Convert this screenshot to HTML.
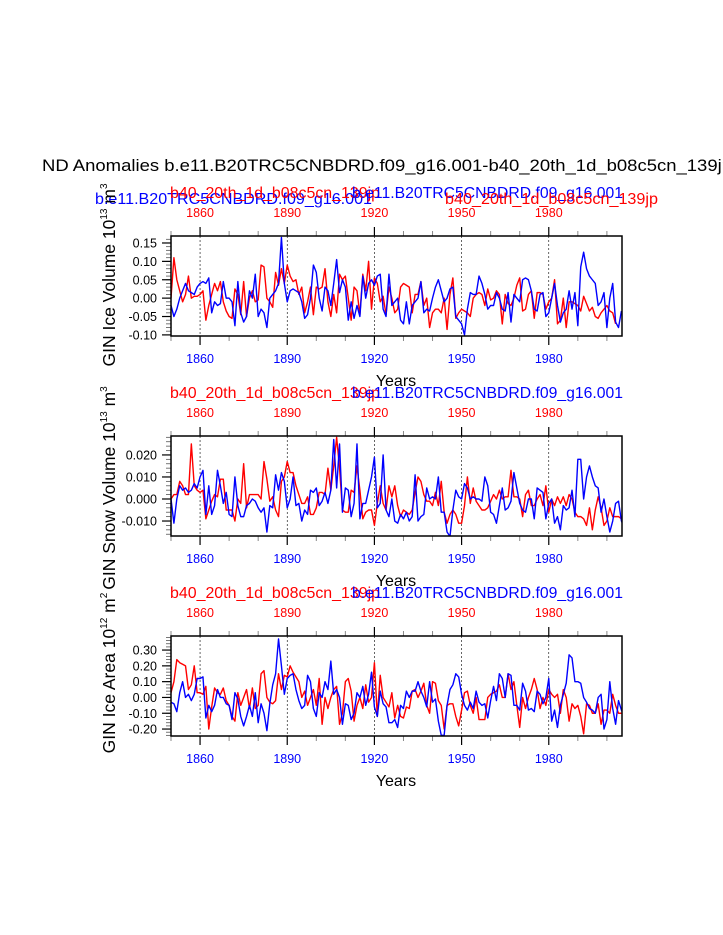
<!DOCTYPE html>
<html><head><meta charset="utf-8">
<style>
html,body{margin:0;padding:0;background:#fff;}
svg{display:block;font-family:"Liberation Sans",sans-serif;}
</style></head>
<body>
<svg id="chart" width="723" height="935" viewBox="0 0 723 935" xmlns="http://www.w3.org/2000/svg">
<text x="42" y="171" font-size="17" fill="#000" textLength="690" lengthAdjust="spacingAndGlyphs">ND Anomalies b.e11.B20TRC5CNBDRD.f09_g16.001-b40_20th_1d_b08c5cn_139jp</text>
</svg>
<script>
const startYear = 1850;
const xTicks = [1860, 1890, 1920, 1950, 1980];

const iceVolBlue = [-0.02,-0.05,-0.03,0.0,0.02,0.04,0.02,0.015,0.01,0.03,0.04,0.045,0.04,0.055,-0.04,-0.01,-0.02,-0.015,0.045,0.0,0.0,-0.01,-0.075,0.045,-0.04,-0.065,-0.05,0.02,0.0,0.065,-0.05,-0.03,-0.04,-0.08,0.0,0.01,0.02,0.04,0.165,0.04,-0.01,0.02,0.025,0.02,0.015,-0.01,-0.055,-0.045,0.0,0.09,0.07,0.0,-0.035,0.03,0.02,-0.02,0.04,0.105,0.015,0.05,0.03,-0.06,-0.01,-0.055,-0.02,-0.05,0.06,0.0,0.04,0.05,0.035,0.06,0.065,-0.03,-0.05,0.065,-0.02,-0.01,0.0,-0.06,-0.07,-0.01,-0.07,-0.02,-0.01,0.0,0.045,-0.04,-0.03,-0.035,0.0,0.03,0.05,0.02,-0.01,0.0,0.025,0.03,-0.05,-0.06,-0.07,-0.1,-0.03,0.015,0.01,0.01,0.06,0.04,0.01,-0.03,-0.02,-0.02,0.015,0.0,-0.03,-0.035,0.015,-0.065,0.01,0.0,-0.01,0.05,0.055,0.05,0.02,-0.03,-0.035,0.01,0.015,-0.05,-0.04,0.0,0.04,-0.02,-0.065,-0.04,-0.03,0.02,-0.03,0.015,-0.075,0.085,0.125,0.08,0.06,0.05,0.04,-0.02,-0.01,0.015,-0.08,0.0,0.04,-0.065,-0.08,-0.035];
const iceVolRed = [0.0,0.11,0.05,0.02,-0.01,0.01,0.06,0.0,0.005,0.005,0.01,0.02,-0.06,-0.02,0.01,0.04,0.02,0.045,-0.01,-0.035,-0.05,-0.055,0.025,0.01,-0.045,0.045,-0.05,0.0,0.02,-0.01,-0.005,0.09,0.085,0.0,-0.01,-0.025,0.07,0.035,0.08,0.04,0.09,0.06,0.045,0.05,0.01,0.03,-0.04,-0.01,0.03,-0.045,0.03,0.025,0.03,0.08,-0.01,-0.05,0.01,-0.04,0.065,0.05,0.06,0.0,-0.06,0.03,0.02,-0.045,0.065,0.02,0.1,-0.03,0.055,0.04,-0.01,0.005,-0.045,0.03,0.0,-0.04,-0.03,0.03,0.04,0.035,0.03,-0.04,0.01,0.01,0.045,-0.02,0.0,-0.08,-0.04,-0.03,-0.03,-0.04,0.0,-0.085,0.01,0.055,-0.055,-0.04,-0.03,-0.035,-0.04,-0.05,0.0,0.01,0.015,0.01,-0.02,0.025,-0.005,0.0,0.02,0.01,-0.07,0.01,-0.015,-0.02,0.0,0.035,0.055,-0.035,-0.03,0.01,0.02,-0.055,0.015,0.015,0.01,-0.03,-0.01,0.0,0.05,-0.07,-0.06,0.0,-0.08,-0.01,-0.01,-0.015,-0.02,-0.035,0.005,-0.015,-0.035,-0.025,-0.05,-0.055,-0.04,-0.03,-0.02,-0.035,-0.04,-0.07];
const snowBlue = [0.0,-0.011,0.0,0.006,0.004,0.005,0.003,0.004,0.007,0.005,0.01,0.013,-0.007,0.006,-0.007,-0.003,0.013,0.006,-0.002,0.003,-0.007,-0.008,0.01,-0.003,-0.008,-0.008,-0.003,-0.002,0.0,-0.001,-0.004,-0.006,-0.004,-0.015,-0.003,-0.004,0.011,0.004,0.012,0.008,-0.004,0.0,0.01,-0.003,-0.002,-0.01,-0.005,-0.007,0.004,0.003,0.005,-0.003,-0.001,0.003,-0.002,0.004,0.027,0.005,0.025,-0.006,0.005,0.004,-0.008,-0.002,0.025,-0.009,-0.002,-0.002,0.004,0.01,0.019,-0.004,-0.002,0.02,-0.005,-0.008,0.0,-0.01,-0.011,-0.007,-0.009,-0.006,-0.01,-0.008,0.011,-0.01,-0.008,-0.007,0.005,0.0,0.001,0.0,0.01,-0.006,-0.006,-0.015,-0.017,-0.005,0.004,0.001,0.0,0.007,0.005,0.0,0.001,0.0,0.0,-0.001,0.01,0.006,-0.006,-0.007,-0.011,-0.003,0.005,-0.005,-0.004,-0.001,0.012,0.005,-0.002,-0.005,-0.006,0.0,0.0,-0.009,0.005,0.004,0.003,-0.009,-0.002,0.0,-0.011,-0.008,-0.014,-0.003,-0.005,-0.004,0.004,-0.008,0.018,0.018,0.0,0.01,0.015,0.01,0.006,0.005,-0.006,0.0,-0.008,-0.015,-0.01,-0.002,-0.001,-0.01,-0.013,-0.002,-0.01];
const snowRed = [0.0,0.002,0.002,0.008,0.006,0.002,0.002,0.025,0.006,0.004,0.003,0.004,-0.009,-0.005,-0.001,0.002,0.001,0.009,0.009,-0.005,-0.005,-0.005,-0.01,0.0,-0.002,0.016,-0.004,0.002,0.002,0.002,0.002,0.0,0.017,0.009,-0.001,0.001,-0.005,-0.008,0.008,0.01,0.017,0.012,0.012,0.006,0.002,-0.002,-0.002,0.001,-0.007,-0.007,-0.004,0.003,0.003,0.002,0.014,0.004,0.015,0.028,0.014,-0.005,-0.006,-0.006,0.004,0.003,0.015,0.004,-0.009,-0.006,-0.005,-0.005,-0.012,-0.002,0.006,-0.002,-0.005,0.006,0.001,0.006,-0.003,-0.008,-0.005,-0.006,-0.007,-0.005,0.003,0.01,0.008,0.002,-0.001,-0.001,-0.003,0.003,-0.003,0.008,-0.006,-0.011,-0.007,-0.005,-0.007,-0.011,-0.011,-0.003,0.01,-0.002,0.005,-0.001,-0.003,-0.005,-0.005,-0.004,-0.001,0.002,0.0,0.004,0.0,0.001,0.001,0.013,0.001,0.001,0.0,-0.008,0.002,0.004,-0.003,-0.003,0.0,0.002,-0.003,0.006,-0.006,0.0,-0.003,0.001,-0.002,0.001,-0.003,0.002,0.0,-0.006,-0.008,-0.008,-0.009,-0.012,-0.004,-0.014,-0.005,0.001,-0.004,-0.012,-0.01,-0.004,-0.008,-0.008,-0.008,-0.009,-0.011];
const areaBlue = [-0.03,-0.04,-0.09,0.03,0.1,0.0,0.02,-0.02,0.02,0.12,0.12,0.13,-0.13,-0.05,-0.09,-0.05,0.05,0.0,0.0,-0.04,-0.05,-0.14,0.03,-0.01,-0.12,-0.18,-0.12,-0.05,-0.12,0.03,-0.16,-0.04,-0.1,-0.21,-0.04,0.08,0.15,0.37,0.2,0.02,0.12,0.14,0.15,0.05,-0.02,-0.07,-0.05,0.14,0.1,-0.07,-0.12,0.03,0.0,0.1,0.05,0.23,0.02,0.05,0.0,-0.17,-0.04,-0.05,-0.14,-0.1,0.03,0.0,0.07,-0.05,0.02,0.16,-0.06,-0.12,0.04,-0.04,-0.06,-0.16,-0.16,-0.14,-0.19,-0.05,-0.07,0.04,0.0,0.04,0.04,0.1,0.04,0.0,-0.06,0.1,-0.03,-0.01,-0.15,-0.24,-0.24,-0.05,0.05,0.08,0.15,0.13,0.02,-0.05,-0.08,-0.03,-0.07,0.04,-0.03,-0.05,-0.04,-0.13,-0.02,0.07,-0.02,0.15,0.12,0.0,0.15,0.14,-0.05,-0.05,-0.08,0.09,0.04,-0.08,-0.07,-0.09,0.04,0.02,-0.04,0.0,0.12,-0.15,-0.08,-0.19,-0.05,0.02,0.09,0.27,0.25,0.1,0.1,0.09,0.0,-0.03,-0.07,-0.08,-0.1,0.0,0.02,-0.2,-0.14,0.1,-0.07,-0.17,-0.02,-0.08,-0.12];
const areaRed = [0.03,0.10,0.24,0.22,0.21,0.20,0.05,0.08,0.20,0.03,0.03,0.02,0.07,-0.20,-0.06,0.06,0.03,0.02,0.06,-0.02,-0.05,-0.12,-0.15,0.03,-0.05,0.0,0.05,-0.07,0.06,-0.07,-0.05,0.15,0.17,0.0,-0.03,-0.04,-0.02,0.15,0.05,0.14,0.13,0.20,0.16,0.13,0.1,0.0,0.04,-0.05,0.0,0.05,-0.05,0.12,-0.17,0.0,-0.07,0.0,0.05,0.07,-0.17,-0.1,0.1,0.12,0.04,-0.15,-0.05,0.0,-0.07,0.08,-0.03,0.0,0.22,-0.12,0.14,0.0,-0.03,-0.06,0.03,-0.13,-0.05,-0.12,-0.13,-0.06,-0.07,0.04,0.05,0.0,0.04,0.09,-0.05,-0.1,0.1,0.09,-0.02,-0.05,-0.2,-0.05,-0.04,-0.04,-0.12,-0.18,-0.08,0.03,0.04,-0.05,-0.1,0.0,-0.14,-0.14,-0.14,0.0,0.02,0.03,0.04,0.08,0.0,0.0,0.15,0.05,0.1,-0.05,-0.19,0.0,-0.07,0.0,0.05,0.12,0.05,-0.07,0.0,-0.05,0.05,0.02,0.0,0.02,-0.1,0.05,0.0,-0.15,-0.04,-0.07,-0.05,-0.12,-0.23,-0.04,-0.05,-0.1,-0.1,-0.04,-0.17,-0.08,-0.08,-0.1,0.02,-0.05,-0.1,-0.1];

const iceVolTicks = [0.15, 0.10, 0.05, 0.00, -0.05, -0.10];
const iceVolTickLabels = ["0.15","0.10","0.05","0.00","-0.05","-0.10"];
const snowTicks = [0.02, 0.01, 0.0, -0.01];
const snowTickLabels = ["0.020","0.010","0.000","-0.010"];
const areaTicks = [0.3, 0.2, 0.1, 0.0, -0.1, -0.2];
const areaTickLabels = ["0.30","0.20","0.10","0.00","-0.10","-0.20"];

const NS = "http://www.w3.org/2000/svg";
const svg = document.getElementById('chart');
function mk(tag, attrs, parent, text){
  const e = document.createElementNS(NS, tag);
  for (const k in attrs) e.setAttribute(k, attrs[k]);
  if (text !== undefined) e.textContent = text;
  (parent || svg).appendChild(e);
  return e;
}
const L = 171, R = 622, X0 = 1850, X1 = 2005.2;
function xs(yr){ return L + (yr - X0) / (X1 - X0) * (R - L); }

const panels = [
  {name:'ice-volume', top:236, ymin:-0.103, ymax:0.169, blue:iceVolBlue, red:iceVolRed, ticks:iceVolTicks, labels:iceVolTickLabels, minor:0.01, title:'GIN Ice Volume 10', sup:'13', unit:' m', usup:'3', titleC:275, first:'blue'},
  {name:'snow-volume', top:436, ymin:-0.0168, ymax:0.0286, blue:snowBlue, red:snowRed, ticks:snowTicks, labels:snowTickLabels, minor:0.002, title:'GIN Snow Volume 10', sup:'13', unit:' m', usup:'3', titleC:488, first:'red'},
  {name:'ice-area', top:636, ymin:-0.244, ymax:0.389, blue:areaBlue, red:areaRed, ticks:areaTicks, labels:areaTickLabels, minor:0.02, title:'GIN Ice Area 10', sup:'12', unit:' m', usup:'2', titleC:673, first:'red'}
];

panels.forEach((p, pi) => {
  const T = p.top, B = p.top + 100;
  const ys = v => B - (v - p.ymin) / (p.ymax - p.ymin) * (B - T);
  const g = mk('g', {}, svg);
  
  
  const clipId = 'clip' + pi;
  const cp = mk('clipPath', {id: clipId}, g);
  mk('rect', {x:L, y:T, width:R-L, height:B-T}, cp);

  if (p.first === 'blue') {
    let t = mk('text', {x:95, y:204, fill:'#0000ff', 'font-size':16, textLength:277, lengthAdjust:'spacingAndGlyphs'}, g, 'b.e11.B20TRC5CNBDRD.f09_g16.001');
     
    t = mk('text', {x:170, y:198, fill:'#ff0000', 'font-size':16, textLength:210, lengthAdjust:'spacingAndGlyphs'}, g, 'b40_20th_1d_b08c5cn_139jp');
     
    t = mk('text', {x:352, y:198, fill:'#0000ff', 'font-size':16, textLength:271, lengthAdjust:'spacingAndGlyphs'}, g, 'b.e11.B20TRC5CNBDRD.f09_g16.001');
     
    t = mk('text', {x:445, y:204, fill:'#ff0000', 'font-size':16, textLength:213, lengthAdjust:'spacingAndGlyphs'}, g, 'b40_20th_1d_b08c5cn_139jp');
     
  } else {
    let t = mk('text', {x:170, y:T-38, fill:'#ff0000', 'font-size':16, textLength:210, lengthAdjust:'spacingAndGlyphs'}, g, 'b40_20th_1d_b08c5cn_139jp');
     
    t = mk('text', {x:352, y:T-38, fill:'#0000ff', 'font-size':16, textLength:271, lengthAdjust:'spacingAndGlyphs'}, g, 'b.e11.B20TRC5CNBDRD.f09_g16.001');
     
  }

  xTicks.forEach(yr => {
    const l = mk('line', {x1:xs(yr), x2:xs(yr), y1:T, y2:B, stroke:'#000', 'stroke-width':0.6, 'stroke-dasharray':'2,2'}, g);
     
  });

  for (let yr = 1850; yr <= 2005; yr += 10) {
    const major = xTicks.includes(yr);
    const len = major ? 9 : 5;
    const col = major ? '#000' : '#888';
    mk('line', {x1:xs(yr), x2:xs(yr), y1:B, y2:B+len, stroke:col, 'stroke-width':major?1.2:1}, g);
    mk('line', {x1:xs(yr), x2:xs(yr), y1:T, y2:T-len, stroke:col, 'stroke-width':major?1.2:1}, g);
  }
  xTicks.forEach(yr => {
    let t = mk('text', {x:xs(yr), y:B+27, fill:'#0000ff', 'font-size':12.5, 'text-anchor':'middle'}, g, String(yr));
     
    t = mk('text', {x:xs(yr), y:T-19, fill:'#ff0000', 'font-size':12.5, 'text-anchor':'middle'}, g, String(yr));
     
  });

  const nMin = Math.ceil(p.ymin / p.minor), nMax = Math.floor(p.ymax / p.minor);
  for (let k = nMin; k <= nMax; k++) {
    const y = ys(k * p.minor);
    mk('line', {x1:L, x2:L-5, y1:y, y2:y, stroke:'#555', 'stroke-width':0.8}, g);
  }
  p.ticks.forEach((v, i) => {
    const y = ys(v);
    mk('line', {x1:L, x2:L-9, y1:y, y2:y, stroke:'#000', 'stroke-width':1.2}, g);
    const t = mk('text', {x:157, y:y+4.5, fill:'#000', 'font-size':12.5, 'text-anchor':'end'}, g, p.labels[i]);
     
  });

  function line(arr, color, nm){
    const pts = arr.map((v, i) => xs(startYear + i).toFixed(2) + ',' + ys(v).toFixed(2)).join(' ');
    const pl = mk('polyline', {points:pts, fill:'none', stroke:color, 'stroke-width':1.4, 'stroke-linejoin':'round', 'clip-path':'url(#' + clipId + ')'}, g);
    
    
  }
  line(p.red, '#ff0000', p.name + '-red-series');
  line(p.blue, '#0000ff', p.name + '-blue-series');

  const fr = mk('rect', {x:L, y:T, width:R-L, height:B-T, fill:'none', stroke:'#000', 'stroke-width':1.5}, g);
   

  const xt = mk('text', {x:396, y:B+50, fill:'#000', 'font-size':16, 'text-anchor':'middle'}, g, 'Years');
   

  const yt = mk('text', {x:0, y:0, fill:'#000', 'font-size':17.5, 'text-anchor':'middle', transform:'translate(115,' + p.titleC + ') rotate(-90)'}, g);
   
  mk('tspan', {}, yt, p.title);
  mk('tspan', {'font-size':10, dy:-8}, yt, p.sup);
  mk('tspan', {dy:8}, yt, p.unit);
  mk('tspan', {'font-size':10, dy:-8}, yt, p.usup);
});
</script>
</body></html>
